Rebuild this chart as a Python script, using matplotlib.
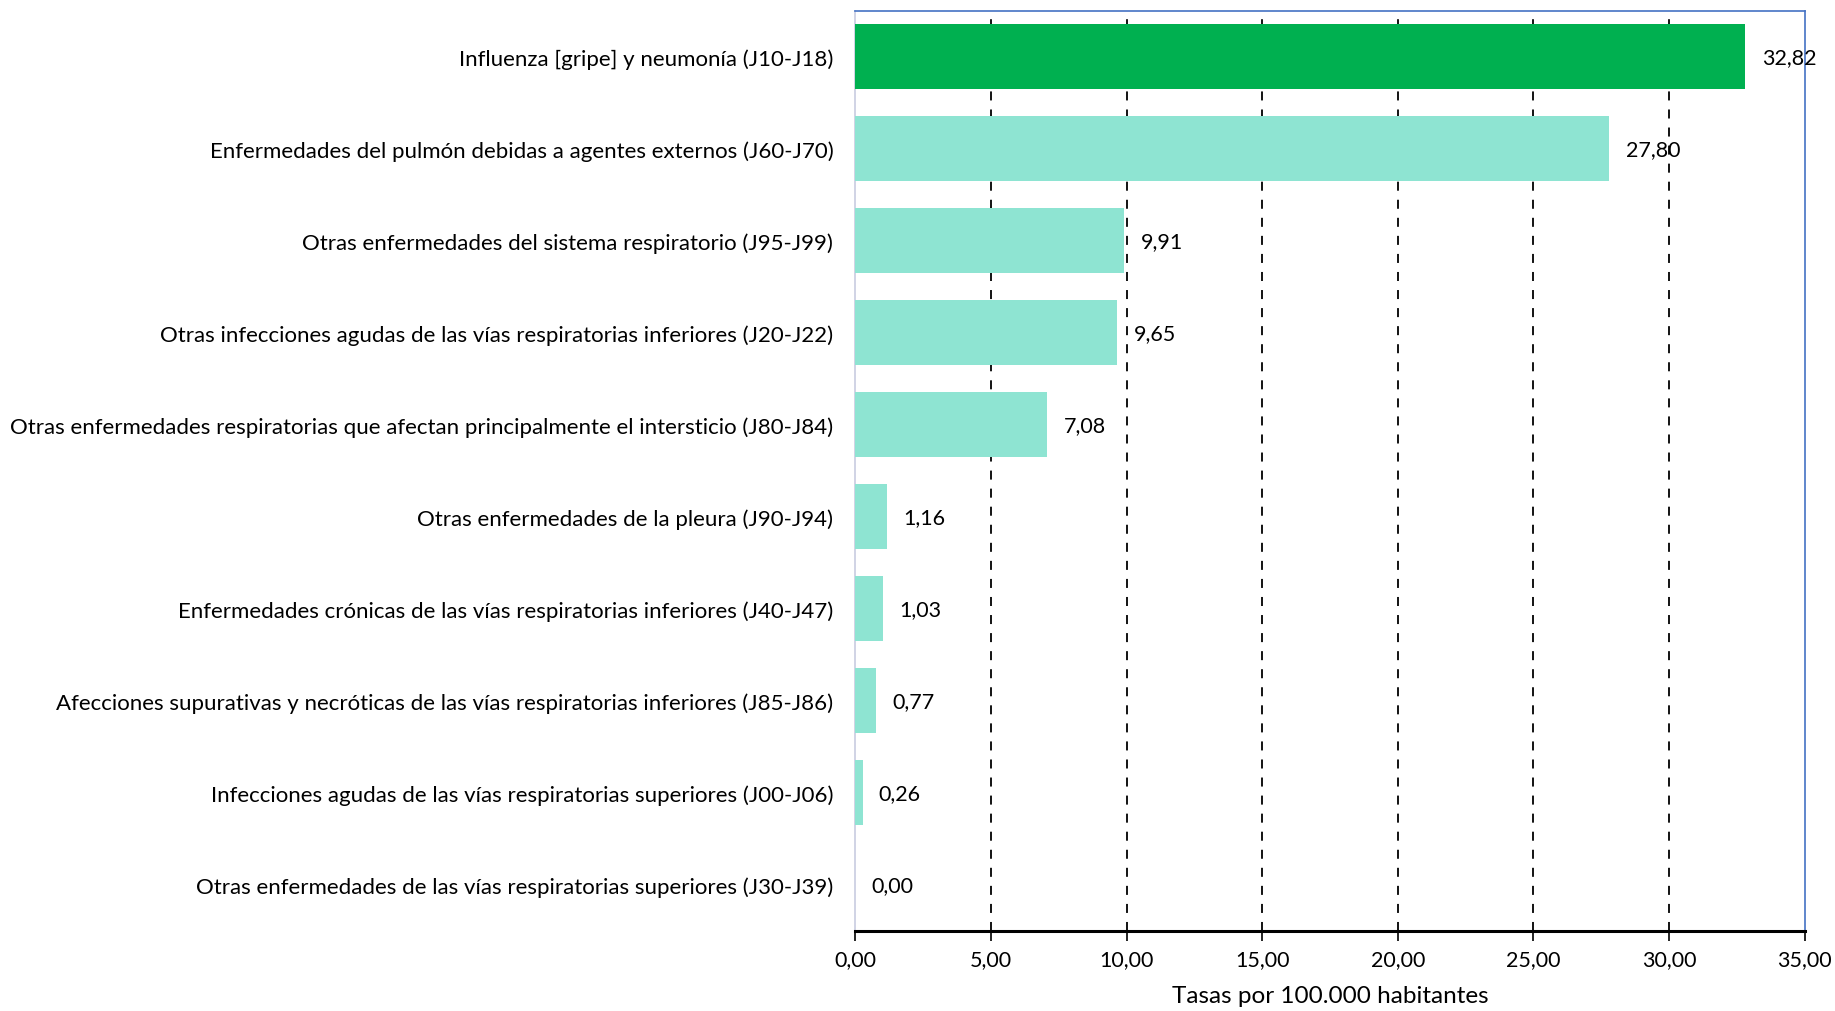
import matplotlib
matplotlib.use("Agg")
import matplotlib.pyplot as plt

categories = [
    "Influenza [gripe] y neumonía (J10-J18)",
    "Enfermedades del pulmón debidas a agentes externos (J60-J70)",
    "Otras enfermedades del sistema respiratorio (J95-J99)",
    "Otras infecciones agudas de las vías respiratorias inferiores (J20-J22)",
    "Otras enfermedades respiratorias que afectan principalmente el intersticio (J80-J84)",
    "Otras enfermedades de la pleura (J90-J94)",
    "Enfermedades crónicas de las vías respiratorias inferiores (J40-J47)",
    "Afecciones supurativas y necróticas de las vías respiratorias inferiores (J85-J86)",
    "Infecciones agudas de las vías respiratorias superiores (J00-J06)",
    "Otras enfermedades de las vías respiratorias superiores (J30-J39)",
]
values = [32.82, 27.80, 9.91, 9.65, 7.08, 1.16, 1.03, 0.77, 0.26, 0.00]
xticks = [0, 5, 10, 15, 20, 25, 30, 35]
xlabel = "Tasas por 100.000 habitantes"

plt.rcParams['font.family'] = ['Lato', 'DejaVu Sans']

fig = plt.figure(figsize=(18.35, 10.12), dpi=100)
ax = fig.add_axes([0.4662, 0.0794, 0.9834 - 0.4662, 0.9884 - 0.0794])

colors = ['#00B050'] + ['#8EE4D2'] * (len(values) - 1)
y = list(range(len(values)))
ax.barh(y, values, height=0.71, color=colors, zorder=3)
ax.set_ylim(len(values) - 0.5, -0.5)
ax.set_xlim(0, 35)
ax.set_yticks(y)
ax.set_yticklabels(categories, fontsize=16)
ax.set_xticks(xticks)
ax.set_xticklabels([f"{t:.2f}".replace('.', ',') for t in xticks], fontsize=15.5)
ax.tick_params(axis='y', length=0, pad=16)
ax.tick_params(axis='x', length=7, width=1.2, color='black', pad=6, direction='out')

for xv in xticks[1:-1]:
    ax.axvline(xv, color='black', linestyle=(0, (5, 5)), linewidth=1.3, zorder=1)

for yi, v in zip(y, values):
    ax.text(v + 0.6, yi, f"{v:.2f}".replace('.', ','), va='center', ha='left',
            fontsize=15.5, zorder=4)

ax.set_xlabel(xlabel, fontsize=17.5, labelpad=12)

ax.spines['top'].set_color('#4472C4')
ax.spines['top'].set_linewidth(1.2)
ax.spines['right'].set_color('#4472C4')
ax.spines['right'].set_linewidth(1.2)
ax.spines['left'].set_color('#C8CCE0')
ax.spines['left'].set_linewidth(1.2)
ax.spines['bottom'].set_color('black')
ax.spines['bottom'].set_linewidth(2.2)

fig.savefig("out.png", dpi=100)
